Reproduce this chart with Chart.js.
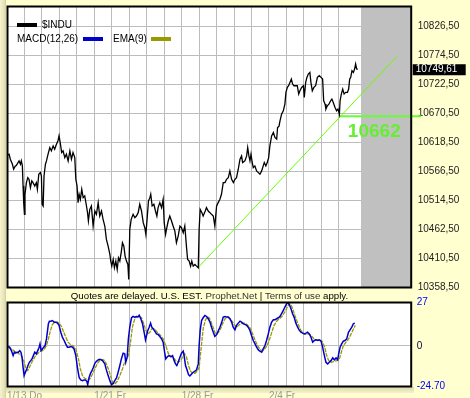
<!DOCTYPE html>
<html><head><meta charset="utf-8">
<script src="https://cdn.jsdelivr.net/npm/chart.js@4"></script>
<style>
html,body{margin:0;padding:0;width:470px;height:398px;overflow:hidden;background:#ffffd0;}
#leftshade{position:absolute;left:0;top:0;width:6px;height:398px;z-index:3;background:linear-gradient(to right,#f6f4cf,#e6e2b8 70%,#d2cea4);}
#botshade{position:absolute;left:0;top:387px;width:414px;height:6px;z-index:0;background:linear-gradient(to bottom,#dcd8ac,#f4f2cc);}
#c1{position:absolute;left:0;top:0;z-index:1;}
#c2{position:absolute;left:0;top:292px;z-index:1;}
#wb{position:absolute;left:7px;top:302px;width:405px;height:84px;background:#fff;z-index:0;}
#note{position:absolute;left:7px;width:405px;top:290px;text-align:center;font:9.7px 'Liberation Sans',Arial,sans-serif;color:#000;white-space:nowrap;z-index:2;}
#note span{color:#333;}
</style></head><body>
<div id="leftshade"></div>
<div id="botshade"></div>
<div id="wb"></div>
<canvas id="c1" width="470" height="296"></canvas>
<canvas id="c2" width="470" height="116"></canvas>
<div id="note">Quotes are delayed. U.S. EST. <span>Prophet.Net</span> | <span>Terms of use</span> apply.</div>
<script>
const gridDays=[1,2,3,4,5,6,7,8,9,10,11,12,13,14,15,16,17,18,19];
const axisLabelDays=[0,5,10,15];
const axisLabels=['1/13 Do','1/21 Fr','1/28 Fr','2/4 Fr'];
const priceTicks=[10358.5,10410.5,10462.5,10514.5,10566.5,10618.5,10670.5,10722.5,10774.5,10826.5];
const priceMin=10358.5, priceMax=10863.2;
const macdTicks=[-24.7,0,27];
const macdMin=-24.7, macdMax=27;
const xMaxDay=23.17;
const shadeFromDay=20.27;
const lastPrice=10749.61;
const seriesNames=['$INDU','MACD(12,26)','EMA(9)'];

const priceDays=[0,0.12,0.19,0.31,0.38,0.46,0.54,0.63,0.69,0.77,
0.82,0.88,0.92,0.96,1.00,1.03,1.11,1.19,1.26,1.34,
1.42,1.49,1.59,1.68,1.74,1.82,1.91,1.97,2.01,2.07,
2.12,2.20,2.26,2.35,2.45,2.54,2.64,2.73,2.83,2.92,
2.98,3.06,3.13,3.21,3.31,3.40,3.50,3.60,3.69,3.78,
3.88,3.94,4.01,4.07,4.13,4.20,4.28,4.36,4.45,4.55,
4.61,4.66,4.74,4.83,4.93,5.03,5.12,5.22,5.31,5.41,
5.50,5.60,5.69,5.79,5.89,5.94,6.00,6.08,6.15,6.23,
6.31,6.38,6.46,6.55,6.61,6.69,6.76,6.84,6.92,6.97,
7.03,7.11,7.22,7.32,7.41,7.51,7.60,7.70,7.80,7.89,
7.95,8.02,8.10,8.18,8.23,8.31,8.41,8.50,8.58,8.65,
8.75,8.85,8.94,9.00,9.08,9.13,9.23,9.32,9.42,9.51,
9.61,9.70,9.80,9.90,9.99,10.09,10.18,10.28,10.34,10.43,
10.51,10.58,10.66,10.76,10.85,10.95,11.00,11.06,11.16,11.23,
11.35,11.42,11.52,11.62,11.71,11.81,11.90,12.00,12.09,12.19,
12.28,12.38,12.48,12.57,12.67,12.76,12.86,12.96,13.05,13.14,
13.24,13.34,
13.43,13.49,13.62,13.72,13.78,13.85,13.91,13.97,14.04,14.10,
14.19,14.29,14.39,14.48,14.58,14.67,14.73,14.82,14.90,14.98,
15.05,15.15,15.25,15.34,15.44,15.49,15.57,15.63,15.72,15.82,
15.91,15.97,16.05,16.12,16.20,16.28,16.35,16.43,16.53,16.62,
16.70,16.77,16.87,16.97,17.02,17.10,17.17,17.25,17.34,17.40,
17.48,17.57,17.67,17.77,17.88,17.98,18.07,18.13,18.21,18.26,
18.34,18.43,18.53,18.60,18.68,18.78,18.87,18.95,19.03,19.07,
19.14,19.22,19.30,19.39,19.49,19.56,19.62,19.68,19.75,19.83,
19.90,19.96,20.02,20.08];
const priceValues=[10595,10597,10588,10579,10570,10575,10577,10582,10585,10579,
10585,10576,10540,10507,10489,10525,10546,10555,10552,10537,
10549,10546,10540,10546,10534,10561,10564,10558,10507,10504,
10558,10579,10585,10597,10609,10603,10612,10606,10615,10621,
10630,10615,10600,10603,10591,10597,10585,10603,10588,10600,
10591,10552,10540,10510,10525,10516,10534,10519,10522,10504,
10492,10477,10498,10504,10468,10495,10489,10510,10486,10495,
10480,10468,10444,10432,10417,10405,10396,10408,10393,10405,
10390,10411,10405,10423,10438,10432,10414,10405,10399,10372,
10462,10480,10489,10483,10486,10492,10507,10495,10474,10465,
10453,10480,10513,10519,10525,10504,10507,10495,10486,10501,
10510,10501,10516,10474,10453,10462,10477,10486,10477,10468,
10459,10438,10450,10468,10465,10456,10468,10429,10408,10405,
10396,10405,10396,10399,10396,10393,10462,10498,10492,10486,
10495,10501,10495,10492,10489,10486,10468,10504,10510,10516,
10525,10546,10546,10552,10555,10567,10552,10546,10552,10555,
10570,10588,
10594,10582,10585,10594,10609,10594,10585,10597,10582,10573,
10576,10567,10564,10561,10567,10576,10582,10576,10582,10591,
10612,10630,10636,10627,10624,10645,10647,10657,10669,10675,
10687,10708,10717,10720,10726,10732,10723,10720,10720,10720,
10705,10711,10717,10720,10699,10726,10735,10741,10744,10726,
10711,10717,10720,10735,10738,10735,10732,10693,10687,10678,
10684,10687,10693,10696,10690,10681,10675,10678,10669,10693,
10705,10714,10705,10708,10708,10714,10732,10735,10747,10744,
10750,10759,10750,10749.61];

const trendDays=[10.93,22.33];
const trendValues=[10393,10773];
const levelDays=[19.0,23.7];
const levelValues=[10665,10665];
const levelLabel='10662';

const macdDays=[0.06,0.15,0.25,0.35,0.42,0.50,0.57,0.65,0.73,0.80,
0.86,0.92,0.98,1.05,1.13,1.20,1.28,1.36,1.43,1.51,
1.59,1.68,1.76,1.84,1.89,1.95,2.03,2.10,2.18,2.26,
2.31,2.37,2.43,2.52,2.60,2.70,2.79,2.89,2.98,3.08,
3.17,3.27,3.36,3.46,3.55,3.65,3.75,3.84,3.94,4.03,
4.13,4.22,4.32,4.41,4.49,4.57,4.62,4.70,4.78,4.85,
4.93,5.03,5.12,5.22,5.31,5.41,5.50,5.60,5.69,5.79,
5.89,5.98,6.08,6.17,6.27,6.36,6.46,6.55,6.65,6.74,
6.80,6.88,6.95,7.03,7.13,7.22,7.32,7.41,7.49,7.57,
7.66,7.76,7.85,7.93,7.99,8.06,8.14,8.22,8.29,8.37,
8.46,8.56,8.65,8.75,8.85,8.94,9.04,9.09,9.19,9.28,
9.38,9.48,9.57,9.65,9.72,9.80,9.90,9.99,10.09,10.14,
10.22,10.32,10.39,10.47,10.57,10.66,10.76,10.85,10.95,11.00,
11.06,11.14,11.23,11.33,11.43,11.52,11.62,11.71,11.81,11.90,
12.00,12.09,12.19,12.28,12.38,12.48,12.57,12.67,12.76,
12.86,12.95,13.05,13.14,13.24,13.34,13.43,13.53,13.62,13.72,
13.81,13.91,14.00,14.10,14.20,14.29,14.39,14.48,14.58,14.67,
14.77,14.86,14.96,15.05,15.15,15.25,15.34,15.44,15.53,15.63,
15.72,15.82,15.91,16.01,16.09,16.16,16.26,16.35,16.45,16.54,
16.64,16.74,16.83,16.93,17.02,17.12,17.21,17.31,17.40,17.50,
17.60,17.69,17.79,17.88,17.98,18.07,18.17,18.26,18.36,18.45,
18.55,18.65,18.74,18.84,18.93,18.99,19.07,19.16,19.26,19.35,
19.45,19.55,19.64,19.74,19.83,19.91];
const macdValues=[-0.4,-0.8,-2.9,-6.0,-3.9,-4.5,-3.9,-3.9,-2.9,-3.9,
-7.0,-13.2,-18.3,-16.3,-14.2,-12.1,-10.1,-9.1,-8.0,-6.0,
-3.9,-4.9,-2.9,-0.8,1.2,-2.9,-1.9,-0.8,0.2,4.3,
8.4,13.6,15.2,15.2,15.6,14.6,14.6,14.0,12.6,8.4,
5.4,3.3,1.2,-0.8,-0.8,-0.4,-0.8,-1.9,-6.0,-13.2,
-19.4,-21.0,-21.4,-21.0,-21.0,-21.8,-23.9,-19.4,-16.9,-15.6,
-13.6,-10.7,-9.5,-8.6,-8.2,-8.6,-9.5,-11.1,-14.8,-18.3,
-21.4,-23.9,-23.1,-21.4,-19.8,-16.3,-12.1,-8.0,-4.5,-4.9,
-10.1,-7.0,4.3,11.5,17.3,18.1,17.7,18.1,17.7,18.9,
16.7,13.6,8.4,3.7,6.4,9.5,11.5,14.0,11.5,10.5,
9.1,7.4,7.0,5.8,4.3,2.3,-4.9,-8.0,-6.6,-6.0,
-6.6,-6.0,-9.1,-11.1,-12.1,-10.1,-7.0,-4.5,-3.3,-6.0,
-12.1,-15.2,-17.7,-18.5,-17.3,-16.3,-15.6,-14.8,-11.1,0.2,
9.5,15.6,17.3,18.7,18.1,16.7,14.6,11.5,8.4,5.8,
7.0,9.1,11.5,14.0,17.7,18.1,17.7,17.7,16.7,
14.6,11.5,9.9,12.6,14.0,15.2,14.6,13.6,13.2,12.6,
11.5,9.5,6.4,3.3,1.2,-0.8,-2.5,-3.3,-3.9,-1.9,
0.2,3.3,7.4,11.5,14.6,16.1,16.1,16.7,17.3,18.1,
19.8,21.8,23.9,25.9,26.4,25.5,22.9,19.8,17.3,14.0,
11.5,9.5,8.4,7.8,7.4,7.8,8.4,7.4,5.4,2.3,
3.3,3.7,3.3,3.7,2.9,-0.8,-6.0,-10.1,-11.1,-10.1,
-9.1,-7.4,-8.6,-7.4,-8.6,-4.9,-0.8,1.2,2.9,3.3,
4.3,8.4,9.9,11.5,13.6,14.0];

const emaDays=[0.06,0.25,0.44,0.63,0.82,0.96,1.07,1.19,1.30,1.42,
1.53,1.64,1.78,1.91,2.03,2.14,2.26,2.37,2.49,2.60,
2.73,2.87,2.98,3.12,3.25,3.36,3.50,3.63,3.78,3.94,
4.09,4.20,4.32,4.43,4.55,4.66,4.78,4.89,5.03,5.16,
5.31,5.47,5.60,5.73,5.89,6.04,6.17,6.31,6.46,6.61,
6.73,6.84,6.95,7.07,7.18,7.30,7.41,7.57,7.70,7.83,
7.95,8.06,8.18,8.29,8.41,8.52,8.65,8.79,8.94,9.09,
9.23,9.36,9.51,9.67,9.80,9.94,10.05,10.16,10.28,10.39,
10.51,10.62,10.76,10.89,11.00,11.12,11.23,11.35,11.46,11.58,
11.69,11.81,11.92,12.04,12.15,12.27,12.38,12.49,12.61,12.72,
12.92,13.05,13.14,13.30,13.45,13.60,13.76,13.91,14.06,14.21,
14.37,14.52,14.67,14.83,14.98,15.13,15.29,15.44,15.59,15.74,
15.90,16.05,16.16,16.28,16.39,16.51,16.66,16.81,16.96,17.12,
17.27,17.42,17.58,17.73,17.88,18.04,18.19,18.30,18.42,18.57,
18.72,18.88,19.03,19.14,19.26,19.41,19.56,19.72,19.87,19.94];
const emaValues=[-0.8,-1.9,-3.3,-4.5,-6.0,-9.1,-13.6,-15.2,-12.8,-10.1,
-8.0,-6.0,-4.5,-3.3,-2.9,-1.9,0.2,4.3,9.5,13.2,
14.6,14.8,14.0,11.9,8.4,5.4,2.3,0.8,0.0,-1.9,
-8.0,-14.2,-18.3,-19.8,-20.4,-21.0,-19.8,-17.3,-14.2,-11.1,
-9.1,-8.4,-9.1,-12.1,-16.9,-22.4,-23.5,-21.8,-18.3,-14.2,
-10.1,-8.0,-6.0,2.3,11.5,16.1,18.1,18.1,17.3,13.6,
9.5,7.4,8.4,10.5,10.5,9.5,7.8,6.4,4.3,0.2,
-4.5,-6.6,-7.0,-9.1,-10.1,-9.1,-7.0,-4.9,-7.0,-12.1,
-15.6,-16.9,-16.9,-15.6,-13.2,-0.8,10.5,15.6,17.7,17.3,
14.6,11.1,7.8,7.4,9.1,11.5,14.6,16.7,17.7,17.3,
14.6,12.6,11.5,13.0,14.0,14.0,13.0,11.1,7.4,3.3,
-0.4,-2.5,-2.9,-0.8,2.3,7.4,12.6,15.2,16.7,18.1,
20.8,23.9,25.9,24.9,21.8,17.7,13.6,9.9,7.8,7.0,
7.4,6.4,4.3,3.7,3.7,2.9,-0.8,-6.0,-9.1,-10.1,
-9.5,-9.1,-8.0,-3.9,0.2,2.3,4.3,7.8,11.1,12.6];

const FONT="'Liberation Sans', Arial, sans-serif";
const GRID='#bcbcbc';
const pts=(xs,ys)=>xs.map((x,i)=>({x:x,y:ys[i]}));

const plotBg={id:'plotBg',beforeDraw(c){const a=c.chartArea,ctx=c.ctx;ctx.save();ctx.fillStyle='#ffffff';ctx.fillRect(a.left,a.top,a.right-a.left,a.bottom-a.top);ctx.restore();}};
const frame={id:'frame',afterDatasetsDraw(c){const a=c.chartArea,ctx=c.ctx;ctx.save();ctx.strokeStyle='#000';ctx.lineWidth=2;ctx.strokeRect(a.left+0.5,a.top+0.5,a.right-a.left-1,a.bottom-a.top);ctx.restore();}};
const shade={id:'shade',beforeDatasetsDraw(c){const a=c.chartArea,ctx=c.ctx,x0=c.scales.x.getPixelForValue(shadeFromDay);ctx.save();ctx.fillStyle='#c0c0c0';ctx.fillRect(x0,a.top,a.right-x0,a.bottom-a.top);ctx.restore();}};

const topDecor={id:'topDecor',afterDraw(c){
  const ctx=c.ctx,a=c.chartArea,x=c.scales.x,y=c.scales.y;
  ctx.save();
  ctx.font='10px '+FONT;ctx.textBaseline='middle';ctx.textAlign='left';
  ctx.fillStyle='#000';ctx.fillRect(17,23,20,4);
  ctx.fillText(seriesNames[0],42,25.5);
  ctx.fillText(seriesNames[1],17,39.5);
  ctx.fillStyle='#0000cc';ctx.fillRect(83,37,20,4);
  ctx.fillStyle='#000';ctx.fillText(seriesNames[2],113,39.5);
  ctx.fillStyle='#999900';ctx.fillRect(151,37,20,4);
  const yy=y.getPixelForValue(lastPrice);
  ctx.fillStyle='#000';ctx.fillRect(a.right+1,yy-5,53,11);
  ctx.fillStyle='#fff';ctx.fillText(lastPrice.toFixed(2).replace('.',','),a.right+4,yy+0.5);
  ctx.fillStyle='#66ee33';ctx.font='bold 19px '+FONT;ctx.textBaseline='alphabetic';
  ctx.fillText(levelLabel,x.getPixelForValue(levelDays[0])+9,y.getPixelForValue(levelValues[0])+21);
  ctx.restore();
}};

new Chart(document.getElementById('c1'),{
  type:'line',
  data:{datasets:[
    {data:pts(priceDays,priceValues),borderColor:'#000',borderWidth:1.3,pointRadius:0,tension:0},
    {data:pts(trendDays,trendValues),borderColor:'#66ff00',borderWidth:1,pointRadius:0,tension:0},
    {data:pts(levelDays,levelValues),borderColor:'#66ff33',borderWidth:2,pointRadius:0,tension:0,clip:false}
  ]},
  options:{
    responsive:false,animation:false,events:[],
    layout:{padding:{left:7,top:6,right:0,bottom:9}},
    plugins:{legend:{display:false},tooltip:{enabled:false}},
    scales:{
      x:{type:'linear',min:0,max:xMaxDay,
         afterBuildTicks:s=>{s.ticks=gridDays.map(v=>({value:v}));},
         afterFit:s=>{s.height=0;s.paddingLeft=0;s.paddingRight=0;},
         ticks:{display:false},grid:{display:true,color:GRID,lineWidth:1,drawTicks:false},border:{display:false}},
      y:{position:'right',min:priceMin,max:priceMax,
         afterBuildTicks:s=>{s.ticks=priceTicks.map(v=>({value:v}));},
         afterFit:s=>{s.width=58.3;s.paddingTop=0;s.paddingBottom=0;},
         ticks:{autoSkip:false,padding:6,color:'#222',font:{family:FONT,size:10},callback:v=>Number(v).toFixed(2).replace('.',',')},
         grid:{display:true,color:GRID,lineWidth:1,drawTicks:false},border:{display:false}}
    }
  },
  plugins:[plotBg,shade,frame,topDecor]
});

new Chart(document.getElementById('c2'),{
  type:'line',
  data:{datasets:[
    {data:pts(macdDays,macdValues),borderColor:'#0000cc',borderWidth:1.5,pointRadius:0,tension:0},
    {data:pts(emaDays,emaValues),borderColor:'#999900',borderWidth:1.3,borderDash:[4,1],pointRadius:0,tension:0}
  ]},
  options:{
    responsive:false,animation:false,events:[],
    layout:{padding:{left:7,top:10,right:0,bottom:0}},
    plugins:{legend:{display:false},tooltip:{enabled:false}},
    scales:{
      x:{type:'linear',min:0,max:xMaxDay,
         afterBuildTicks:s=>{s.ticks=[0].concat(gridDays).map(v=>({value:v}));},
         afterFit:s=>{s.height=22;s.paddingLeft=0;s.paddingRight=0;},
         ticks:{autoSkip:false,maxRotation:0,align:'start',padding:4,color:'#999999',font:{family:FONT,size:10},
           callback:v=>{const i=axisLabelDays.indexOf(v);return i<0?'':axisLabels[i];}},
         grid:{display:true,color:GRID,lineWidth:1,drawTicks:false},border:{display:false}},
      y:{position:'right',min:macdMin,max:macdMax,
         afterBuildTicks:s=>{s.ticks=macdTicks.map(v=>({value:v}));},
         afterFit:s=>{s.width=58.3;s.paddingTop=0;s.paddingBottom=0;},
         ticks:{autoSkip:false,padding:5,font:{family:FONT,size:10},
           color:c=>c.tick&&c.tick.value===0?'#000033':'#0000ff',
           callback:v=>v===0?'0':(v<0?Number(v).toFixed(2):String(v))},
         grid:{display:true,color:GRID,lineWidth:1,drawTicks:false},border:{display:false}}
    }
  },
  plugins:[frame]
});
</script>
</body></html>
